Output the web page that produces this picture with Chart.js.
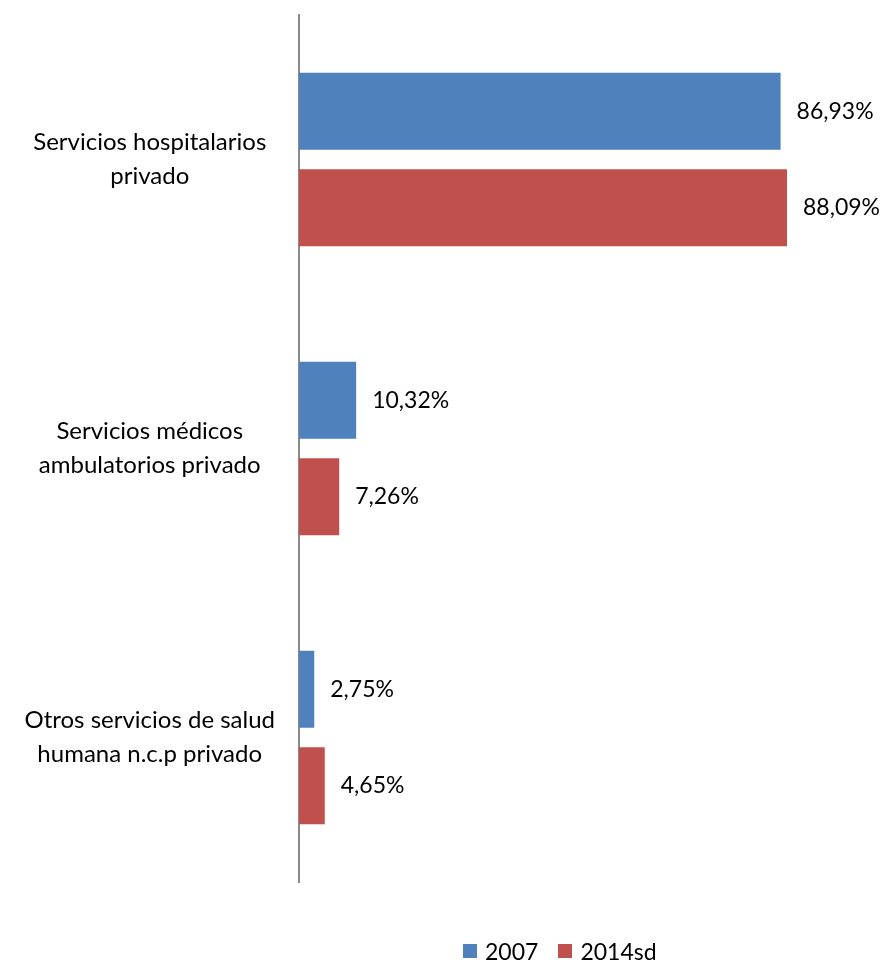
<!DOCTYPE html>
<html>
<head>
<meta charset="utf-8">
<script src="https://cdn.jsdelivr.net/npm/chart.js@4/dist/chart.umd.min.js"></script>
<style>
  html, body { margin:0; padding:0; background:#fff; }
  #wrap { position:relative; width:884px; height:962px; }
  #legend { position:absolute; left:463px; top:937px; font-family:Lato, sans-serif; font-size:23px; line-height:28px; color:#000; display:flex; align-items:center; white-space:nowrap; }
  #legend .item { display:flex; align-items:center; margin-right:20px; }
  #legend .box { width:14px; height:14px; margin-right:8px; }
</style>
</head>
<body>
<div id="wrap">
  <canvas id="chart" width="884" height="962"></canvas>
  <div id="legend"></div>
</div>
<script>
// Data
const categories = [
    ['Servicios hospitalarios', 'privado'],
    ['Servicios médicos', 'ambulatorios privado'],
    ['Otros servicios de salud', 'humana n.c.p privado']
];
const seriesNames = ['2007', '2014sd'];
const values2007 = [86.93, 10.32, 2.75];
const values2014 = [88.09, 7.26, 4.65];
const colors = ['#4F81BD', '#C0504D'];

const FONT = 'Lato, sans-serif';

const valueLabels = {
    id: 'valueLabels',
    afterDatasetsDraw(chart) {
        const ctx = chart.ctx;
        ctx.save();
        ctx.font = '23px ' + FONT;
        ctx.fillStyle = '#000';
        ctx.textAlign = 'left';
        ctx.textBaseline = 'middle';
        chart.data.datasets.forEach((ds, i) => {
            chart.getDatasetMeta(i).data.forEach((bar, j) => {
                const txt = ds.data[j].toFixed(2).replace('.', ',') + '%';
                ctx.fillText(txt, bar.x + 16, bar.y);
            });
        });
        ctx.restore();
    }
};

const chart = new Chart(document.getElementById('chart'), {
    type: 'bar',
    data: {
        labels: categories,
        datasets: [
            { label: seriesNames[0], data: values2007, backgroundColor: colors[0] },
            { label: seriesNames[1], data: values2014, backgroundColor: colors[1] }
        ]
    },
    options: {
        indexAxis: 'y',
        responsive: false,
        animation: false,
        devicePixelRatio: 1,
        categoryPercentage: 0.667,
        barPercentage: 0.8,
        layout: { padding: { top: 15, bottom: 80, right: 31, left: 0 } },
        plugins: { legend: { display: false }, tooltip: { enabled: false } },
        scales: {
            x: { display: false, min: 0, max: 100 },
            y: {
                afterFit: s => { s.width = 299; s.paddingTop = 0; s.paddingBottom = 0; },
                grid: { display: false, drawTicks: false },
                border: { display: true, color: '#8a8a8a', width: 2 },
                ticks: {
                    crossAlign: 'center',
                    padding: 24,
                    color: '#000',
                    font: { family: FONT, size: 24, lineHeight: 1.42 }
                }
            }
        }
    },
    plugins: [valueLabels]
});

// Legend
const lg = document.getElementById('legend');
seriesNames.forEach((n, i) => {
    const it = document.createElement('div');
    it.className = 'item';
    it.innerHTML = `<span class="box" style="background:${colors[i]}"></span><span>${n}</span>`;
    lg.appendChild(it);
});
</script>
</body>
</html>
